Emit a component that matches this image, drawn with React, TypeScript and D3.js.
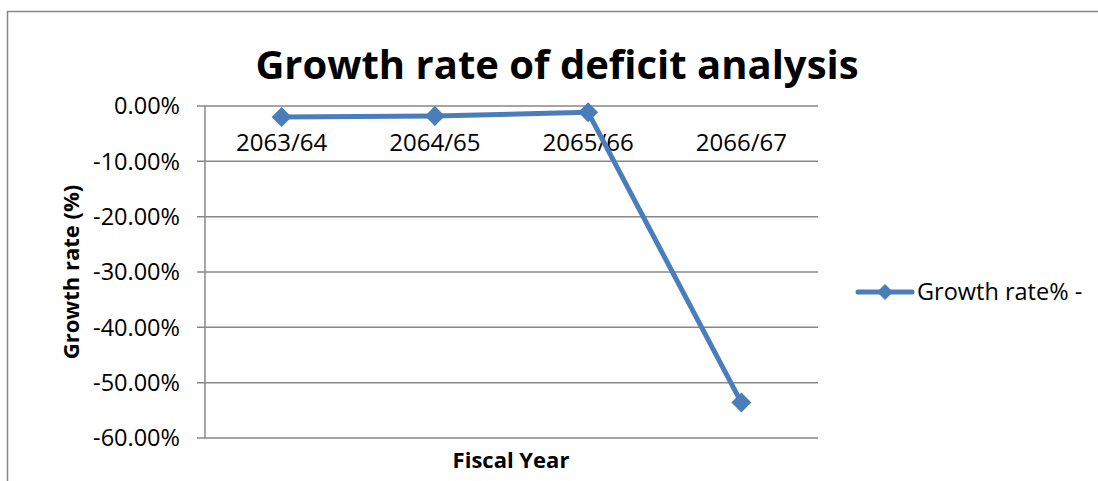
import React from "react";
import * as d3 from "d3";

const categories = ["2063/64", "2064/65", "2065/66", "2066/67"];
const growthRate = [-2.0, -1.8, -1.15, -53.6];
const yTicks = [0, -10, -20, -30, -40, -50, -60];
const seriesName = "Growth rate% -";
const title = "Growth rate of deficit analysis";
const xTitle = "Fiscal Year";
const yTitle = "Growth rate (%)";

const W = 1098;
const H = 481;
const plot = { left: 205, right: 818, top: 106, bottom: 438 };
const FONT = "'Open Sans', sans-serif";
const BLUE = "#4A7EBB";
const GRID = "#878787";

export default function App() {
  const x = d3
    .scaleBand<string>()
    .domain(categories)
    .range([plot.left, plot.right]);
  const y = d3.scaleLinear().domain([-60, 0]).range([plot.bottom, plot.top]);
  const cx = (c: string) => (x(c) as number) + x.bandwidth() / 2;
  const pts: [number, number][] = categories.map((c, i) => [cx(c), y(growthRate[i])]);
  const line = d3.line<[number, number]>()(pts) as string;
  const diamond = (px: number, py: number, r: number) =>
    `M${px},${py - r}L${px + r},${py}L${px},${py + r}L${px - r},${py}Z`;
  const fmt = (t: number) => d3.format(".2f")(t).replace("\u2212", "-") + "%";

  return (
    <svg
      width={W}
      height={H}
      style={{ position: "absolute", left: 0, top: 0, background: "#fff" }}
      fontFamily={FONT}
    >
      <rect x={0} y={0} width={W} height={H} fill="#fff" />
      <rect x={7.5} y={11.5} width={W + 10} height={H + 10} fill="none" stroke={GRID} strokeWidth={1.5} />
      <text x={557} y={79} textAnchor="middle" fontWeight="bold" fontSize={40} fill="#000">
        {title}
      </text>
      {yTicks.map((t) => (
        <g key={t}>
          <line x1={plot.left - 8} x2={plot.right} y1={y(t)} y2={y(t)} stroke={GRID} strokeWidth={1.5} />
          <text x={180} y={y(t)} dy="0.35em" textAnchor="end" fontSize={23.5} fill="#000">
            {fmt(t)}
          </text>
        </g>
      ))}
      <line x1={plot.left} x2={plot.left} y1={plot.top} y2={plot.bottom} stroke={GRID} strokeWidth={1.5} />
      {categories.map((c) => (
        <text key={c} x={cx(c)} y={143} dy="0.35em" textAnchor="middle" fontSize={24} fill="#000">
          {c}
        </text>
      ))}
      <path d={line} fill="none" stroke={BLUE} strokeWidth={5} strokeLinejoin="round" />
      {pts.map(([px, py], i) => (
        <path key={i} d={diamond(px, py, 10)} fill={BLUE} />
      ))}
      <text
        transform={`translate(71,${(plot.top + plot.bottom) / 2}) rotate(-90)`}
        dy="0.35em"
        textAnchor="middle"
        fontWeight="bold"
        fontSize={22}
        fill="#000"
      >
        {yTitle}
      </text>
      <text x={511} y={468} textAnchor="middle" fontWeight="bold" fontSize={22} fill="#000">
        {xTitle}
      </text>
      <line x1={858} x2={912} y1={292} y2={292} stroke={BLUE} strokeWidth={5} strokeLinecap="round" />
      <path d={diamond(885, 292, 8)} fill={BLUE} />
      <text x={917} y={292} dy="0.35em" fontSize={23.5} fill="#000">
        {seriesName}
      </text>
    </svg>
  );
}
